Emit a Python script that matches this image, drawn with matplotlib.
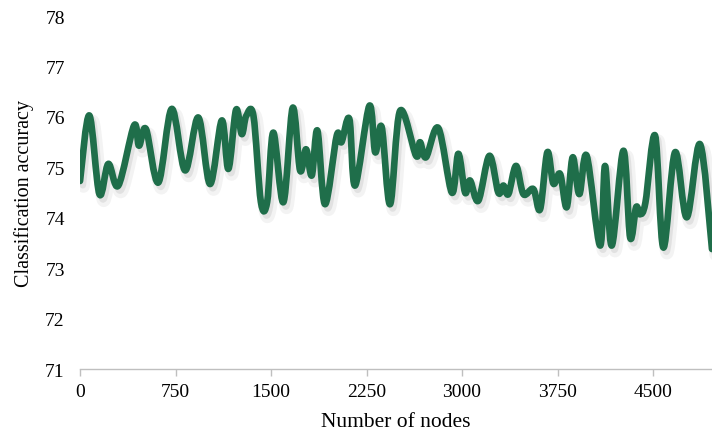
import numpy as np
import matplotlib
matplotlib.use("Agg")
import matplotlib.pyplot as plt
import matplotlib.patheffects as pe
from matplotlib.path import Path
from matplotlib.patches import PathPatch

# values (local peaks / valleys of the curve)
nodes = [0, 73, 152, 222, 301, 424, 463, 518, 615, 720, 825, 929, 1021, 1113,
         1165, 1225, 1270, 1305, 1362, 1420, 1470, 1518, 1597, 1670, 1728, 1775,
         1820, 1864, 1924, 2016, 2053, 2115, 2160, 2272, 2318, 2369, 2435, 2513,
         2639, 2670, 2717, 2814, 2920, 2971, 3024, 3063, 3128, 3215, 3285, 3325,
         3364, 3424, 3482, 3560, 3613, 3670, 3717, 3770, 3822, 3869, 3921, 3979,
         4084, 4123, 4176, 4267, 4320, 4367, 4398, 4440, 4516, 4581, 4673, 4765,
         4869, 4963]
accuracy = [74.73, 76.03, 74.47, 75.07, 74.64, 75.83, 75.43, 75.76, 74.70, 76.16,
            74.94, 75.99, 74.67, 75.93, 74.97, 76.14, 75.66, 76.02, 76.02, 74.32,
            74.32, 75.69, 74.31, 76.18, 74.94, 75.36, 74.84, 75.73, 74.27, 75.63,
            75.50, 75.96, 74.64, 76.22, 75.30, 75.80, 74.27, 76.12, 75.23, 75.50,
            75.20, 75.78, 74.50, 75.27, 74.50, 74.74, 74.34, 75.23, 74.50, 74.64,
            74.47, 75.03, 74.47, 74.57, 74.17, 75.30, 74.68, 74.87, 74.21, 75.20,
            74.47, 75.23, 73.45, 75.03, 73.45, 75.33, 73.61, 74.21, 74.07, 74.30,
            75.63, 73.41, 75.30, 74.01, 75.46, 73.38]

x_ticks = [0, 750, 1500, 2250, 3000, 3750, 4500]
y_ticks = [71, 72, 73, 74, 75, 76, 77, 78]

LINE_COLOR = "#1f6e4a"
GREY = "#bfbfbf"


def smooth_path(xs, ys):
    # Catmull-Rom -> cubic bezier, like a spreadsheet "smoothed line"
    pts = np.column_stack([xs, ys]).astype(float)
    pts = np.vstack([pts[0], pts, pts[-1]])
    verts = [tuple(pts[1])]
    codes = [Path.MOVETO]
    for i in range(1, len(pts) - 2):
        p0, p1, p2, p3 = pts[i - 1], pts[i], pts[i + 1], pts[i + 2]
        c1 = p1 + (p2 - p0) / 6.0
        c2 = p2 - (p3 - p1) / 6.0
        verts += [tuple(c1), tuple(c2), tuple(p2)]
        codes += [Path.CURVE4] * 3
    return Path(verts, codes)


plt.rcParams["font.family"] = ["Liberation Serif", "DejaVu Serif"]

fig = plt.figure(figsize=(7.12, 4.39), dpi=100)
ax = fig.add_axes([0.1124, 0.157, 0.8876, 0.804])

patch = PathPatch(smooth_path(nodes, accuracy), facecolor="none",
                  edgecolor=LINE_COLOR, linewidth=4.8, capstyle="round",
                  joinstyle="round", transform=ax.transData)
patch.set_path_effects([
    pe.SimpleLineShadow(offset=(2.5, -4), shadow_color="0.55", alpha=0.10,
                        linewidth=9),
    pe.SimpleLineShadow(offset=(2, -3), shadow_color="0.5", alpha=0.15),
    pe.Normal(),
])
ax.add_patch(patch)

ax.set_xlim(0, 4963)
ax.set_ylim(71, 78)
ax.set_xticks(x_ticks)
ax.set_yticks(y_ticks)

for side in ["top", "right", "left"]:
    ax.spines[side].set_visible(False)
ax.spines["bottom"].set_color(GREY)
ax.spines["bottom"].set_linewidth(1.0)

ax.tick_params(axis="x", direction="out", length=5, width=1.0, color=GREY,
               labelsize=14, pad=5)
ax.tick_params(axis="y", length=0, labelsize=14, pad=11)

ax.set_xlabel("Number of nodes", fontsize=15.5, labelpad=9)
ax.set_ylabel("Classification accuracy", fontsize=14.5, labelpad=8)

fig.savefig("out.png", dpi=100)
